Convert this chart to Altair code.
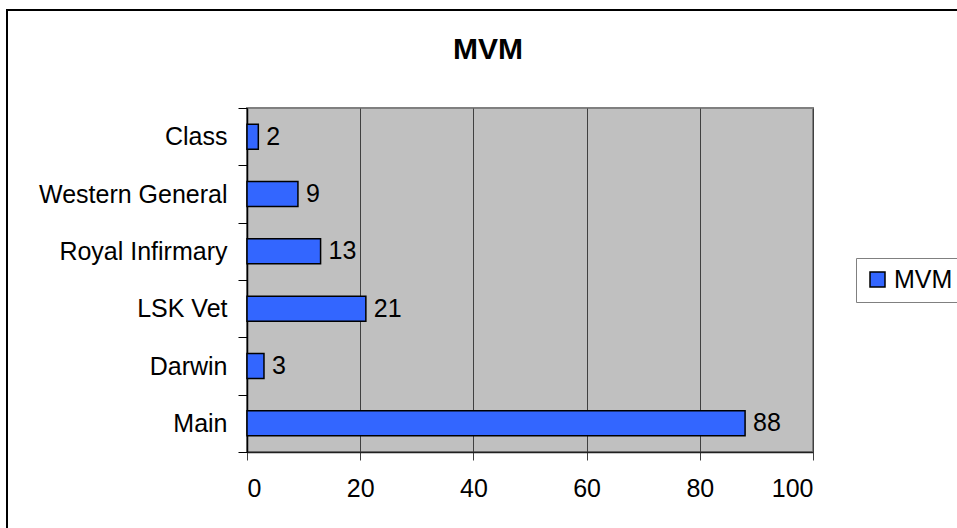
import altair as alt
import pandas as pd

categories = ["Class", "Western General", "Royal Infirmary", "LSK Vet", "Darwin", "Main"]
values = [2, 9, 13, 21, 3, 88]
series = ["MVM"] * len(categories)
x_ticks = [0, 20, 40, 60, 80, 100]

df = pd.DataFrame({"site": categories, "count": values, "series": series})

FONT = "Liberation Sans"

base = alt.Chart(df)

y_enc = alt.Y(
    "site:N",
    sort=None,
    title=None,
    scale=alt.Scale(paddingInner=0, paddingOuter=0),
    axis=alt.Axis(
        tickBand="extent",
        tickSize=9,
        tickColor="#000000",
        domainColor="#000000",
        domainWidth=1.5,
        labelFont=FONT,
        labelFontSize=25,
        labelColor="#000000",
        labelPadding=11,
        labelLimit=0,
        grid=False,
    ),
)

x_enc = alt.X(
    "count:Q",
    title=None,
    scale=alt.Scale(domain=[0, 100], nice=False),
    axis=alt.Axis(
        values=x_ticks,
        tickSize=8,
        tickColor="#404040",
        domainColor="#202020",
        domainWidth=1.5,
        labelFont=FONT,
        labelFontSize=25,
        labelColor="#000000",
        labelPadding=16,
        grid=True,
        gridColor="#404040",
        gridWidth=1,
    ),
)

bars = base.mark_bar(stroke="#000000", strokeWidth=1.5, size=25).encode(
    y=y_enc,
    x=x_enc,
    color=alt.Color(
        "series:N",
        scale=alt.Scale(domain=["MVM"], range=["#3366FF"]),
        legend=alt.Legend(
            title=None,
            orient="none",
            legendX=609,
            legendY=150,
            strokeColor="#808080",
            padding=9,
            symbolType="square",
            symbolSize=225,
            symbolStrokeColor="#000000",
            symbolStrokeWidth=1.5,
            labelFont=FONT,
            labelFontSize=25,
            labelColor="#000000",
            labelOffset=4,
        ),
    ),
)

labels = base.mark_text(
    align="left", baseline="middle", dx=8, font=FONT, fontSize=25, color="#000000"
).encode(y=alt.Y("site:N", sort=None), x="count:Q", text="count:Q")

border = base.mark_rect(
    fillOpacity=0, stroke="#000000", strokeWidth=2
).encode(
    x=alt.value(-240), x2=alt.value(730), y=alt.value(-98), y2=alt.value(440)
)

chart = (
    alt.layer(border, bars, labels)
    .properties(
        width=566,
        height=344,
        padding={"left": 247, "top": 108, "right": 144, "bottom": 76},
        autosize=alt.AutoSizeParams(type="none"),
        title=alt.TitleParams(
            "MVM",
            font=FONT,
            fontSize=30,
            fontWeight="bold",
            color="#000000",
            anchor="middle",
            frame="group",
            baseline="alphabetic",
            offset=-80,
            dx=-42,
        ),
        background="#FFFFFF",
    )
    .configure_view(fill="#C0C0C0", stroke="#808080", strokeWidth=2)
)

chart.save("out.html", embed_options={"renderer": "svg", "actions": False})
